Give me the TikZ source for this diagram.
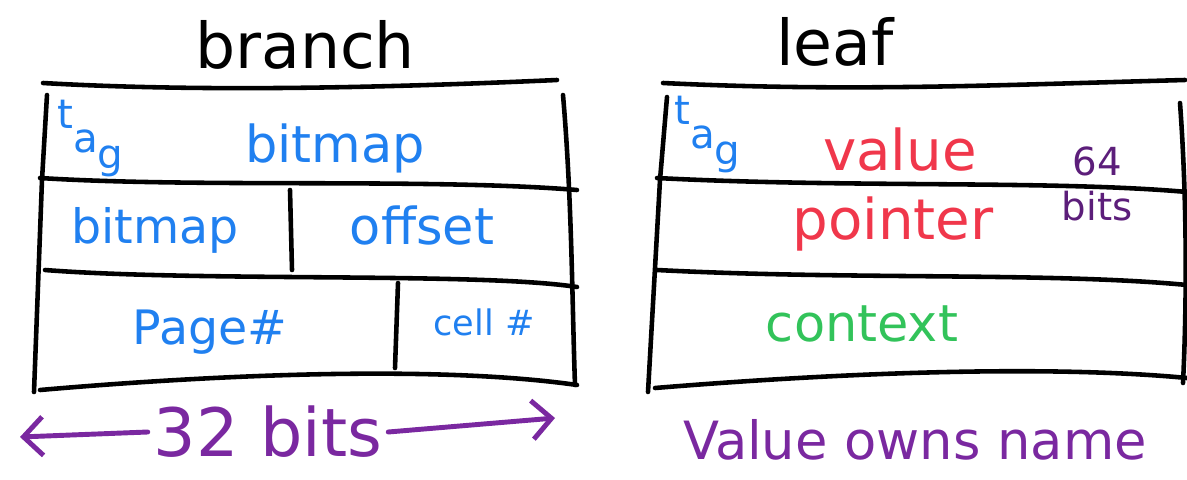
\documentclass[tikz,border=0pt]{standalone}
\usepackage{fontspec}
\setmainfont{DejaVu Sans}
\usetikzlibrary{arrows.meta}

\definecolor{inkblue}{RGB}{32,128,240}
\definecolor{inkred}{RGB}{240,55,75}
\definecolor{inkgreen}{RGB}{50,195,90}
\definecolor{inkpurple}{RGB}{122,40,160}
\definecolor{inkplum}{RGB}{92,30,122}

% letters stepping down to the right
\newcommand{\stairtag}{t\raisebox{-14pt}{a}\raisebox{-23pt}{g}}

\begin{document}
\begin{tikzpicture}[x=0.02cm,y=-0.02cm,
  pen/.style={line width=2.6pt,line cap=round,line join=round},
  title/.style={font=\fontsize{36}{40}\selectfont},
  field/.style={font=\fontsize{29}{32}\selectfont,text=inkblue},
  tagged/.style={font=\fontsize{23}{24}\selectfont,text=inkblue,anchor=base west,inner sep=0pt},
  note/.style={font=\fontsize{30}{34}\selectfont,text=inkpurple},
  arr/.style={pen,draw=inkpurple,line width=2.8pt,-{Straight Barb[length=11pt,width=22pt]}}]
\useasboundingbox (0,0) rectangle (1187,480);

% branch entry
\node[title] (branch) at (305,45) {branch};
\draw[pen] (43,83) .. controls (200,92) and (380,88) .. (557,80);
\draw[pen] (47,95) -- (42,180) -- (34,392);
\draw[pen] (563,95) .. controls (572,200) and (572,300) .. (575,385);
\draw[pen] (40,178) .. controls (200,188) and (430,178) .. (577,190);
\draw[pen] (45,270) .. controls (200,282) and (480,272) .. (577,287);
\draw[pen] (40,390) .. controls (200,376) and (430,364) .. (577,385);
\draw[pen] (290,190) -- (292,270);
\draw[pen] (398,283) -- (395,368);
\node[tagged] (btag) at (57,128) {\stairtag};
\node[field] (bmap) at (335,148) {bitmap};
\node[field,font=\fontsize{27}{30}\selectfont] (bmaplo) at (155,230) {bitmap};
\node[field] (boff) at (422,226) {offset};
\node[field,font=\fontsize{27}{30}\selectfont] (bpage) at (210,332) {Page\#};
\node[field,font=\fontsize{20}{22}\selectfont] (bcell) at (484,322) {cell \#};

% leaf entry
\node[title] (leaf) at (835,42) {leaf};
\draw[pen] (663,83) .. controls (850,92) and (1000,85) .. (1185,80);
\draw[pen] (667,97) -- (660,180) -- (648,392);
\draw[pen] (1180,103) .. controls (1187,200) and (1187,300) .. (1183,383);
\draw[pen] (657,178) .. controls (850,188) and (1050,180) .. (1187,192);
\draw[pen] (657,270) .. controls (850,280) and (1050,272) .. (1187,285);
\draw[pen] (655,388) .. controls (850,372) and (1050,365) .. (1187,378);
\node[tagged] (ltag) at (674,124) {\stairtag};
\node[field,text=inkred,font=\fontsize{32}{36}\selectfont] (lval) at (900,150) {value};
\node[field,text=inkred,font=\fontsize{32}{36}\selectfont] (lptr) at (893,224) {pointer};
\node[font=\fontsize{22}{24}\selectfont,text=inkplum,align=center] (lbits) at (1097,184) {64\\[2pt]bits};
\node[field,text=inkgreen] (lctx) at (862,324) {context};

% widths and ownership
\node[note,font=\fontsize{38}{42}\selectfont] (width) at (268,432) {32 bits};
\coordinate (wl) at (20,437);
\coordinate (wr) at (555,418);
\draw[arr] (width.west) -- (wl);
\draw[arr] (width.east) -- (wr);
\node[note] (owns) at (915,440) {Value owns name};
\end{tikzpicture}
\end{document}
